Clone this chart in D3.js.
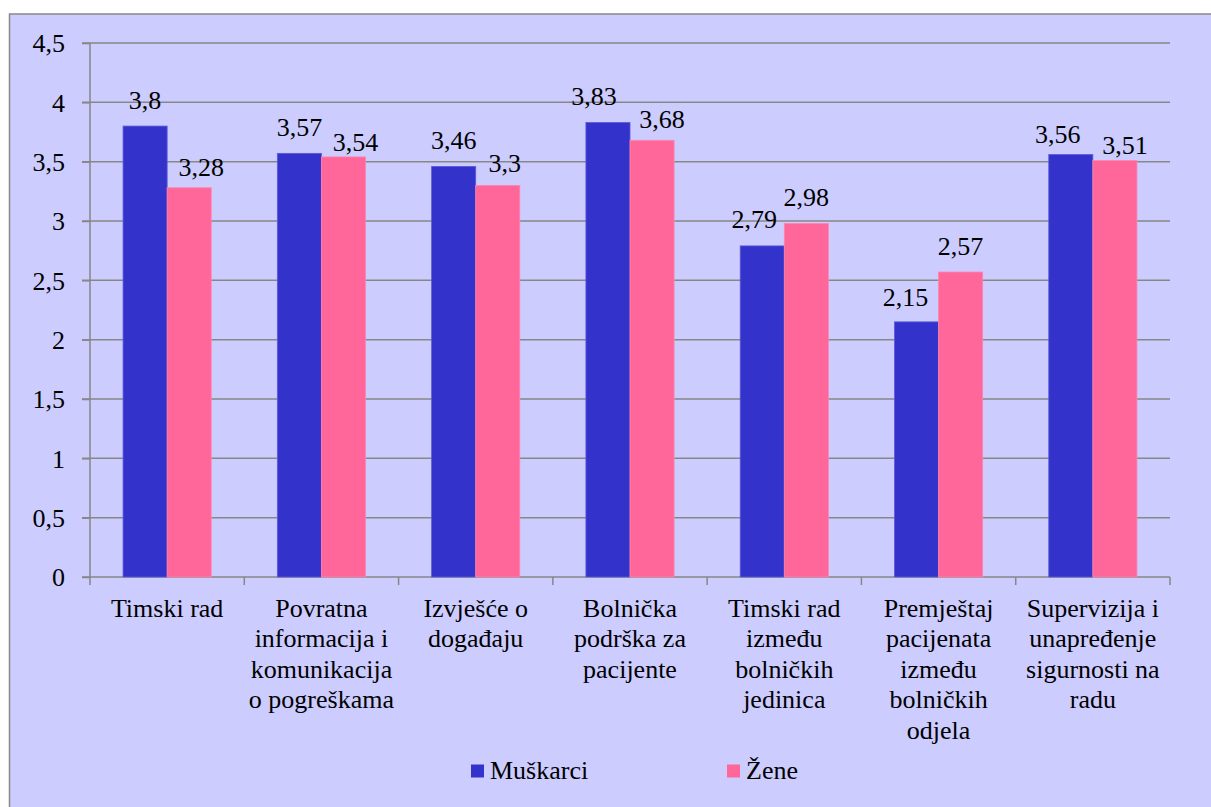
<!DOCTYPE html>
<html>
<head>
<meta charset="utf-8">
<script src="https://cdn.jsdelivr.net/npm/d3@7"></script>
</head>
<body style="margin:0">
<svg id="viz" width="1211" height="807" style="display:block"></svg>
<script>
// ---- data ----
const categories = [
  "Timski rad",
  "Povratna\ninformacija i\nkomunikacija\no pogreškama",
  "Izvješće o\ndogađaju",
  "Bolnička\npodrška za\npacijente",
  "Timski rad\nizmeđu\nbolničkih\njedinica",
  "Premještaj\npacijenata\nizmeđu\nbolničkih\nodjela",
  "Supervizija i\nunapređenje\nsigurnosti na\nradu"
];
const seriesNames = ["Muškarci", "Žene"];
const muskarci = [3.8, 3.57, 3.46, 3.83, 2.79, 2.15, 3.56];
const zene = [3.28, 3.54, 3.3, 3.68, 2.98, 2.57, 3.51];
const yTicks = [0, 0.5, 1, 1.5, 2, 2.5, 3, 3.5, 4, 4.5];
// manual data label nudges (px) as placed in the original chart
const labelNudgeM = [[0,0],[0,0],[0,0],[-14,0],[-8,0],[-11,2],[-13,6]];
const labelNudgeZ = [[12,6],[12,12],[7,4],[10,5],[0,0],[0,0],[10,11]];

(function () {
const FONT = '"Liberation Serif", serif';
const colors = ["#3333CC", "#FF6699"];
const fmt = v => String(v).replace(".", ",");

const svg = d3.select("#viz");
const W = 1211, H = 807;
const txt = sel => sel.attr("font-family", FONT).style("font-family", FONT)
  .attr("font-size", 26).style("font-size", "26px").attr("fill", "#000");

// chart area background + frame
svg.append("rect").attr("x", 9.5).attr("y", 14).attr("width", W).attr("height", H)
  .attr("fill", "#CCCCFF").attr("stroke", "#888888").attr("stroke-width", 1.5);

const mLeft = 90, mRight = 1170, mTop = 43, mBottom = 577;

const x0 = d3.scaleBand().domain(d3.range(categories.length)).range([mLeft, mRight]).paddingInner(0).paddingOuter(0);
const bw = x0.bandwidth() / 3.5; // gap width 150%
const y = d3.scaleLinear().domain([0, 4.5]).range([mBottom, mTop]);

// gridlines
svg.append("g").selectAll("line").data(yTicks).join("line")
  .attr("x1", mLeft - 8).attr("x2", mRight)
  .attr("y1", d => y(d)).attr("y2", d => y(d))
  .attr("stroke", "#878787").attr("stroke-width", 1.5);

// y axis line + ticks via d3 axis
const yAxis = d3.axisLeft(y).tickValues(yTicks).tickFormat(fmt).tickSize(8).tickPadding(17);
const gy = svg.append("g").attr("transform", `translate(${mLeft},0)`).call(yAxis)
  .attr("font-family", FONT).attr("font-size", 26);
gy.select(".domain").attr("stroke", "#878787").attr("stroke-width", 1.5).attr("d", `M0,${mTop}V${mBottom}`);
gy.selectAll(".tick line").attr("stroke", "#878787").attr("stroke-width", 1.5);
gy.selectAll(".tick text").call(txt).attr("dy", "0.34em");

// x axis ticks (category boundaries)
const bounds = d3.range(categories.length + 1).map(i => i === categories.length ? mRight : x0(i));
svg.append("g").selectAll("line").data(bounds).join("line")
  .attr("x1", d => d).attr("x2", d => d).attr("y1", mBottom).attr("y2", mBottom + 8)
  .attr("stroke", "#878787").attr("stroke-width", 1.5);

// bars
const series = [muskarci, zene];
const nudges = [labelNudgeM, labelNudgeZ];
series.forEach((vals, s) => {
  const g = svg.append("g");
  const bx = i => x0(i) + x0.bandwidth() / 2 - bw + s * bw;
  g.selectAll("rect").data(vals).join("rect")
    .attr("x", (d, i) => bx(i))
    .attr("y", d => y(d))
    .attr("width", bw)
    .attr("height", d => y(0) - y(d))
    .attr("fill", colors[s])
    .attr("stroke", s === 0 ? "#5a5ad8" : "#ff85ad").attr("stroke-width", 0.8);
  g.selectAll("text").data(vals).join("text")
    .attr("x", (d, i) => bx(i) + bw / 2 + nudges[s][i][0])
    .attr("y", (d, i) => y(d) - 17.5 + nudges[s][i][1])
    .attr("text-anchor", "middle")
    .call(txt)
    .text(d => fmt(d));
});

// category labels
const cg = svg.append("g");
categories.forEach((c, i) => {
  const cx = x0(i) + x0.bandwidth() / 2;
  const t = cg.append("text").attr("x", cx).attr("y", 617)
    .attr("text-anchor", "middle").call(txt);
  c.split("\n").forEach((line, j) => {
    t.append("tspan").attr("x", cx).attr("dy", j === 0 ? 0 : 30.4)
      .style("font-family", FONT).text(line);
  });
});

// legend
const legendX = [471, 727];
seriesNames.forEach((n, s) => {
  svg.append("rect").attr("x", legendX[s]).attr("y", 764.5).attr("width", 13).attr("height", 13).attr("fill", colors[s]);
  svg.append("text").attr("x", legendX[s] + 19).attr("y", 778.5).call(txt).text(n);
});
})();
</script>
</body>
</html>
